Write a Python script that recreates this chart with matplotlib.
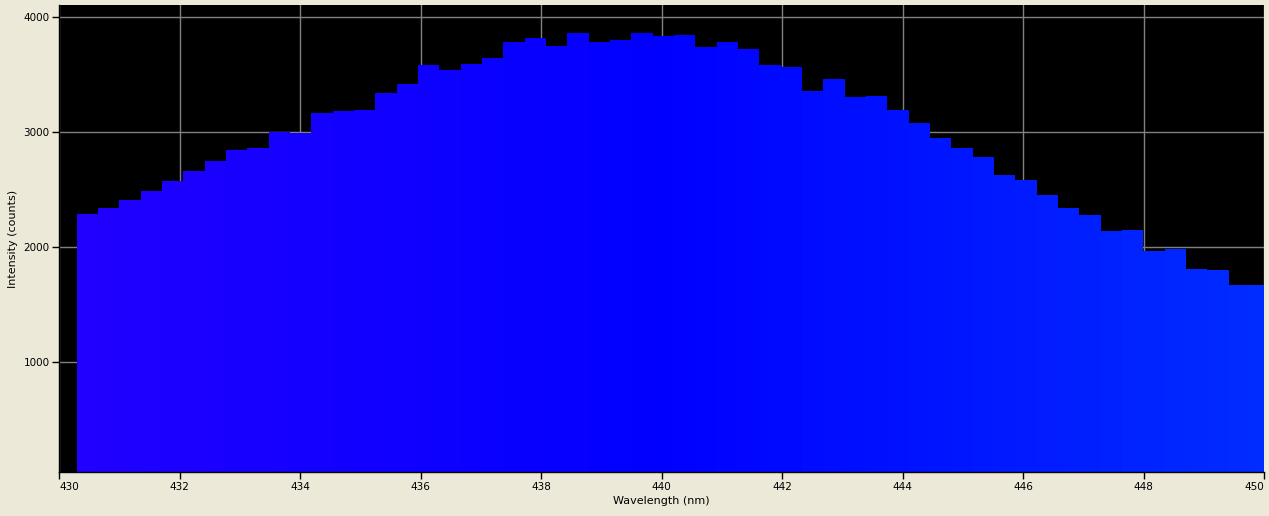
import numpy as np
import matplotlib
matplotlib.use("Agg")
import matplotlib.pyplot as plt
from matplotlib.colors import LinearSegmentedColormap

# spectrometer bins (nm), bin width
start_nm = 430.289
bin_nm = 0.3541
counts = [2290, 2342, 2411, 2490, 2577, 2664, 2750, 2846, 2863, 3003,
          2997, 3168, 3185, 3194, 3342, 3420, 3585, 3542, 3594, 3646,
          3785, 3820, 3751, 3864, 3785, 3803, 3864, 3837, 3846, 3742,
          3785, 3724, 3585, 3568, 3359, 3464, 3307, 3316, 3194, 3081,
          2950, 2863, 2785, 2629, 2585, 2455, 2342, 2281, 2142, 2150,
          1968, 1985, 1811, 1803, 1672, 1672]
wl = start_nm + bin_nm * np.arange(len(counts))

bg = "#ECE9D8"
spec = LinearSegmentedColormap.from_list(
    "spec", [(0.0, "#2200FF"), (0.5, "#0000FF"), (1.0, "#002CFF")])

fig = plt.figure(figsize=(12.69, 5.16), dpi=100, facecolor=bg)
ax = fig.add_axes([59.3 / 1269, 44 / 516, 1205 / 1269, 467 / 516])
ax.set_facecolor("black")

colors = spec((wl + bin_nm / 2 - 430) / 20)
ax.bar(wl, counts, width=bin_nm, align="edge", color=colors,
       edgecolor="none", linewidth=0)

ax.set_xlim(430, 450)
ax.set_ylim(46, 4107)
ax.set_xticks(np.arange(430, 451, 2))
ax.set_yticks([1000, 2000, 3000, 4000])
ax.set_axisbelow(True)
ax.grid(True, color="#808080", linewidth=1)

for s in ["top", "right"]:
    ax.spines[s].set_visible(False)
for s in ["left", "bottom"]:
    ax.spines[s].set_color("black")
    ax.spines[s].set_linewidth(1)

ax.tick_params(direction="out", length=5, width=1, labelsize=7.5,
               colors="black", pad=2)
labels = ax.get_xticklabels()
labels[0].set_horizontalalignment("left")
labels[-1].set_horizontalalignment("right")

ax.set_xlabel("Wavelength (nm)", fontsize=8, labelpad=3)
ax.set_ylabel("Intensity (counts)", fontsize=8, labelpad=4)

fig.savefig("out.png", dpi=100, facecolor=bg)
